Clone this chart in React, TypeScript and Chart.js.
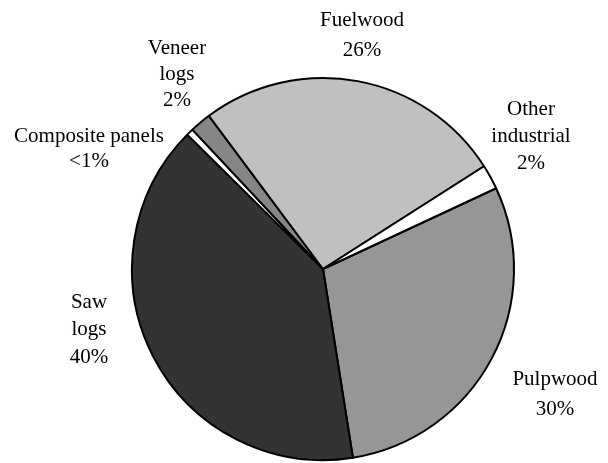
import React, { useEffect, useRef } from "react";
import { Chart, registerables } from "chart.js";

Chart.register(...registerables);

// Data
const categories = ["Pulpwood", "Saw logs", "Composite panels", "Veneer logs", "Fuelwood", "Other industrial"];
const shares = [29.5, 40.0, 0.6, 1.8, 26.2, 2.1];
const shareLabels = ["30%", "40%", "<1%", "2%", "26%", "2%"];
const labelLines = [["Pulpwood"], ["Saw", "logs"], ["Composite panels"], ["Veneer", "logs"], ["Fuelwood"], ["Other", "industrial"]];
const sliceColors = ["#969696", "#333333", "#ffffff", "#868686", "#c0c0c0", "#ffffff"];

// Layout for the text labels: [centre x, first line y, line spacing]
const labelLayout: [number, number, number][] = [
  [555, 379, 30],
  [89, 302, 27.5],
  [89, 136, 25.5],
  [177, 48, 26],
  [362, 20, 30],
  [531, 109, 27],
];

const labelPlugin = {
  id: "sliceLabels",
  afterDraw(chart: any) {
    const ctx = chart.ctx;
    ctx.save();
    ctx.fillStyle = "#000";
    ctx.font = "21px 'Liberation Serif', 'Times New Roman', serif";
    ctx.textAlign = "center";
    ctx.textBaseline = "middle";
    categories.forEach((_, i) => {
      const [x, y, dy] = labelLayout[i];
      const lines = [...labelLines[i], shareLabels[i]];
      lines.forEach((t, j) => ctx.fillText(t, x, y + j * dy));
    });
    ctx.restore();
  },
};

export default function App() {
  const ref = useRef<HTMLCanvasElement | null>(null);
  useEffect(() => {
    if (!ref.current) return;
    const chart = new Chart(ref.current, {
      type: "pie",
      data: {
        labels: categories,
        datasets: [
          {
            data: shares,
            backgroundColor: sliceColors,
            borderColor: "#000000",
            borderWidth: 2,
          },
        ],
      },
      options: {
        responsive: false,
        animation: false,
        rotation: 65,
        layout: { padding: { top: 77, bottom: 2, left: 100, right: 62 } },
        plugins: {
          legend: { display: false },
          tooltip: { enabled: false },
        },
      },
      plugins: [labelPlugin],
    });
    return () => chart.destroy();
  }, []);
  return (
    <div style={{ position: "fixed", left: 0, top: 0, width: 608, height: 463, background: "#fff" }}>
      <canvas ref={ref} width={608} height={463} style={{ display: "block" }} />
    </div>
  );
}
